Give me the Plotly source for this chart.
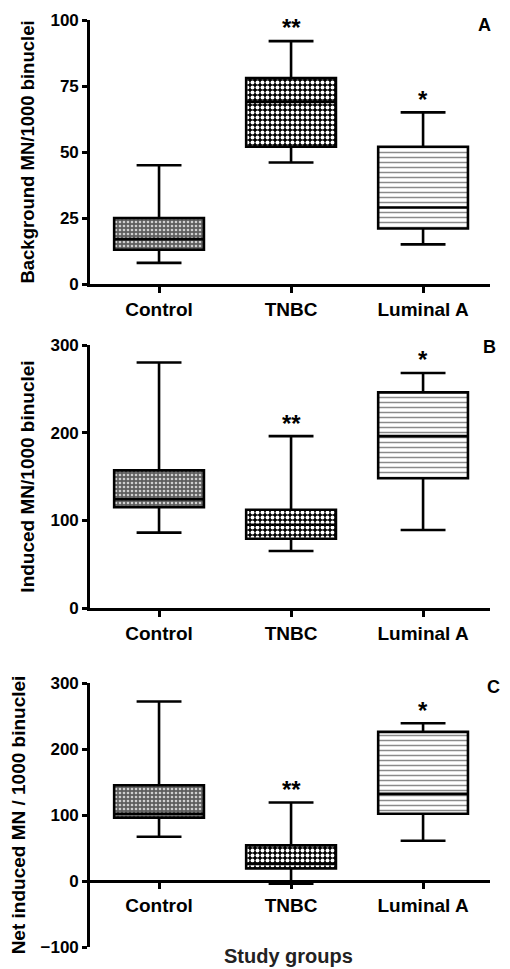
import plotly.graph_objects as go

categories = ["Control", "TNBC", "Luminal A"]

# Panel A: Background MN/1000 binuclei
a_low = [8, 46, 15]
a_q1 = [13, 52, 21]
a_med = [17, 69, 29]
a_q3 = [25, 78, 52]
a_high = [45, 92, 65]

# Panel B: Induced MN/1000 binuclei
b_low = [86, 65, 89]
b_q1 = [115, 79, 148]
b_med = [124, 95, 196]
b_q3 = [157, 112, 246]
b_high = [280, 196, 268]

# Panel C: Net induced MN / 1000 binuclei
c_low = [67, -4, 61]
c_q1 = [96, 19, 102]
c_med = [102, 26, 132]
c_q3 = [145, 54, 226]
c_high = [272, 119, 239]

sig_a = ["", "**", "*"]
sig_b = ["", "**", "*"]
sig_c = ["", "**", "*"]

y_titles = ["Background MN/1000 binuclei", "Induced MN/1000 binuclei", "Net induced MN / 1000 binuclei"]
panel_letters = ["A", "B", "C"]
y_ranges = [[0, 100], [0, 300], [-100, 300]]
y_dticks = [25, 100, 100]

# page has an 8px body margin; figure sized to fit inside the 510x969 window
OFF = 8
W, H = 510 - 2 * OFF, 969 - OFF
def py(px):
    return 1 - (px - OFF) / H
def pxx(px):
    return (px - OFF) / W

x_dom = [pxx(90), pxx(490)]
y_doms = [[py(284), py(20)], [py(608), py(345)], [py(947), py(683)]]
x_range = [-0.523, 2.507]

patterns = [
    dict(shape=".", bgcolor="#5e5e5e", fgcolor="#cfcfcf", size=4, solidity=0.35, fillmode="replace"),
    dict(shape=".", bgcolor="#000000", fgcolor="#ffffff", size=5, solidity=0.5, fillmode="replace"),
    dict(shape="-", bgcolor="#ffffff", fgcolor="#8a8a8a", size=5, solidity=0.3, fillmode="replace"),
]

BOXW = 0.68
fig = go.Figure()
panels = [
    (a_low, a_q1, a_med, a_q3, a_high, sig_a),
    (b_low, b_q1, b_med, b_q3, b_high, sig_b),
    (c_low, c_q1, c_med, c_q3, c_high, sig_c),
]

ytickfont = dict(family="Liberation Sans", size=17, color="black", weight="bold")
xtickfont = dict(family="Liberation Sans", size=19, color="black", weight="bold")
title_sizes = [18.5, 19, 19]

for i, (lo, q1, med, q3, hi, sig) in enumerate(panels):
    xa = "x" if i == 0 else f"x{i+1}"
    ya = "y" if i == 0 else f"y{i+1}"
    for j, cat in enumerate(categories):
        fig.add_trace(go.Bar(
            x=[cat], y=[q3[j] - q1[j]], base=[q1[j]], width=BOXW,
            marker=dict(color=patterns[j]["bgcolor"], pattern=patterns[j], line=dict(width=0)),
            xaxis=xa, yaxis=ya, showlegend=False, hoverinfo="skip",
        ))
    fig.add_trace(go.Box(
        x=categories, q1=q1, median=med, q3=q3, lowerfence=lo, upperfence=hi,
        width=BOXW, whiskerwidth=0.5, boxpoints=False,
        fillcolor="rgba(0,0,0,0)", line=dict(color="black", width=2.6),
        xaxis=xa, yaxis=ya, showlegend=False,
    ))
    span = y_ranges[i][1] - y_ranges[i][0]
    for j, cat in enumerate(categories):
        if sig[j]:
            fig.add_annotation(
                x=cat, y=hi[j] + 0.05 * span, xref=xa, yref=ya, text=sig[j],
                showarrow=False, yanchor="middle",
                font=dict(family="Liberation Sans", size=24, color="black", weight="bold"),
            )

letter_pos = [(487, 25), (492, 347), (501, 687)]
for i, L in enumerate(panel_letters):
    fig.add_annotation(
        x=min(pxx(letter_pos[i][0] + 6), 1.0), y=py(letter_pos[i][1]), xref="paper", yref="paper",
        text=L, showarrow=False, xanchor="right", yanchor="middle",
        font=dict(family="Liberation Sans", size=18, color="black", weight="bold"),
    )

fig.add_annotation(
    x=pxx(288), y=py(956), xref="paper", yref="paper", text="Study groups",
    showarrow=False, xanchor="center", yanchor="middle",
    font=dict(family="Liberation Sans", size=20, color="#222222", weight="bold"),
)

layout = dict(
    width=W, height=H, margin=dict(l=0, r=0, t=0, b=0),
    paper_bgcolor="white", plot_bgcolor="white", barmode="overlay",
)
for i in range(3):
    xk = "xaxis" if i == 0 else f"xaxis{i+1}"
    yk = "yaxis" if i == 0 else f"yaxis{i+1}"
    ya = "y" if i == 0 else f"y{i+1}"
    yr = y_ranges[i]
    xax = dict(
        domain=x_dom, range=x_range, type="category", categoryorder="array", categoryarray=categories,
        showline=True, linecolor="black", linewidth=2.6, ticks="outside", ticklen=6, tickwidth=2.5,
        tickcolor="black", tickfont=xtickfont, showgrid=False, zeroline=False, automargin=False,
        fixedrange=True,
    )
    if i == 2:
        d0, d1 = y_doms[i]
        pos = d0 + (0 - yr[0]) / (yr[1] - yr[0]) * (d1 - d0)
        xax.update(anchor="free", position=pos)
    else:
        xax.update(anchor=ya)
    layout[xk] = xax
    layout[yk] = dict(
        domain=y_doms[i], range=yr, dtick=y_dticks[i], tick0=0, anchor="x" if i == 0 else f"x{i+1}",
        showline=True, linecolor="black", linewidth=2.6, ticks="outside", ticklen=5, tickwidth=2.5,
        tickcolor="black", tickfont=ytickfont, showgrid=False, zeroline=False, automargin=False,
        title=dict(text=y_titles[i], font=dict(family="Liberation Sans", size=title_sizes[i], color="black", weight="bold"), standoff=11),
    )

fig.update_layout(**layout)
fig.write_html("out.html")
